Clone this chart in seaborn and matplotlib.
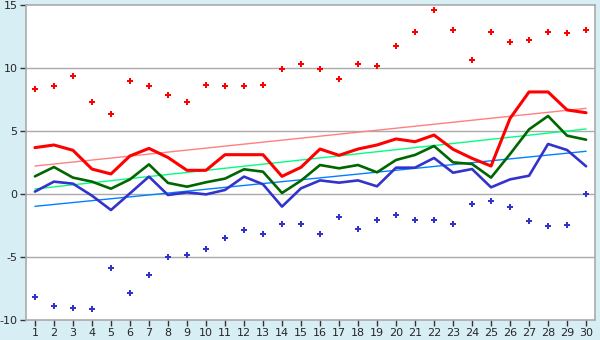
import numpy as np
import pandas as pd
import matplotlib
matplotlib.use('Agg')
import matplotlib.pyplot as plt
import seaborn as sns

sns.set_style('white')
plt.rcParams['font.family'] = ['DejaVu Sans']
plt.rcParams['axes.unicode_minus'] = False

# 数据
days = list(range(1, 31))
red_line = [3.68, 3.89, 3.47, 1.98, 1.59, 3.02, 3.62, 2.90, 1.88, 1.88,
            3.12, 3.12, 3.12, 1.40, 2.12, 3.57, 3.07, 3.57, 3.89, 4.37,
            4.15, 4.68, 3.55, 2.83, 2.22, 6.00, 8.10, 8.10, 6.67, 6.45]
green_line = [1.40, 2.14, 1.30, 0.98, 0.42, 1.16, 2.35, 0.88, 0.58, 0.93,
              1.22, 1.96, 1.77, 0.08, 1.06, 2.30, 2.04, 2.30, 1.72, 2.70,
              3.10, 3.81, 2.51, 2.38, 1.30, 3.17, 5.13, 6.19, 4.63, 4.31]
blue_line = [0.19, 0.98, 0.82, -0.13, -1.27, 0.05, 1.38, -0.08, 0.13, -0.03,
             0.32, 1.38, 0.77, -1.00, 0.45, 1.08, 0.90, 1.08, 0.61, 2.09,
             2.09, 2.86, 1.69, 1.98, 0.53, 1.16, 1.45, 3.97, 3.49, 2.20]
red_points = [8.31, 8.55, 9.34, 7.28, 6.33, 8.94, 8.55, 7.83, 7.28, 8.63,
              8.55, 8.55, 8.63, 9.90, 10.29, 9.90, 9.10, 10.29, 10.13, 11.72,
              12.83, 14.58, 12.99, 10.61, 12.83, 12.04, 12.20, 12.83, 12.75, 12.99]
blue_points = [-8.20, -8.91, -9.07, -9.15, -5.90, -7.88, -6.45, -5.03, -4.87, -4.39,
               -3.52, -2.88, -3.20, -2.41, -2.41, -3.20, -1.85, -2.80, -2.09, -1.69,
               -2.09, -2.09, -2.41, -0.82, -0.58, -1.06, -2.17, -2.56, -2.48, -0.02]
# 趋势线两端
trend_x = [1, 30]
red_trend = [2.22, 6.80]
green_trend = [0.40, 5.16]
blue_trend = [-0.98, 3.39]

df = pd.DataFrame({'day': days, 'red': red_line, 'green': green_line, 'blue': blue_line,
                   'red_pt': red_points, 'blue_pt': blue_points})
tr = pd.DataFrame({'x': trend_x, 'red': red_trend, 'green': green_trend, 'blue': blue_trend})

fig = plt.figure(figsize=(6, 3.4), dpi=100, facecolor='#d8eef5')
ax = fig.add_axes([26 / 600, 20 / 340, 569 / 600, 315 / 340])
ax.set_facecolor('white')

for y in [-5, 0, 5, 10]:
    ax.axhline(y, color='#aaaaaa', lw=1, zorder=0)

sns.lineplot(data=tr, x='x', y='red', color='#ff8080', lw=1, ax=ax)
sns.lineplot(data=tr, x='x', y='green', color='#00ff80', lw=1, ax=ax)
sns.lineplot(data=tr, x='x', y='blue', color='#0080ff', lw=1, ax=ax)

sns.lineplot(data=df, x='day', y='red', color='#ff0000', lw=2.2, ax=ax)
sns.lineplot(data=df, x='day', y='green', color='#006600', lw=1.9, ax=ax)
sns.lineplot(data=df, x='day', y='blue', color='#3333cc', lw=1.9, ax=ax)

sns.scatterplot(data=df, x='day', y='red_pt', color='#ff0000', marker='P', s=18,
                linewidth=0, ax=ax)
sns.scatterplot(data=df, x='day', y='blue_pt', color='#3333cc', marker='P', s=18,
                linewidth=0, ax=ax)

ax.set_xlim(0.53, 30.47)
ax.set_ylim(-10, 15)
ax.set_xticks(days)
ax.set_yticks([-10, -5, 0, 5, 10, 15])
ax.set_xlabel('')
ax.set_ylabel('')
for s in ax.spines.values():
    s.set_color('#aaaaaa')
    s.set_linewidth(1.2)
ax.tick_params(axis='both', which='both', length=4, width=1, color='#333333',
               labelsize=8, pad=2, direction='out', bottom=True, left=True)

fig.savefig('out.png', dpi=100, facecolor=fig.get_facecolor())
